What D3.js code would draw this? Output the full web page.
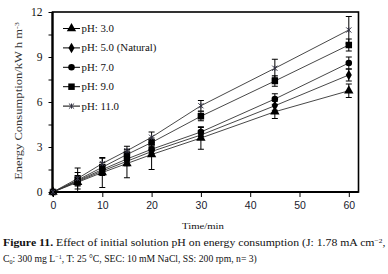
<!DOCTYPE html>
<html><head><meta charset="utf-8">
<script src="https://cdn.jsdelivr.net/npm/d3@7/dist/d3.min.js"></script>
<style>body{margin:0;background:#fff}svg{display:block}</style>
</head><body>
<svg id="c" width="388" height="274"></svg>
<script>
const times = [0, 5, 10, 15, 20, 30, 45, 60];
const seriesNames = ["pH: 3.0", "pH: 5.0 (Natural)", "pH: 7.0", "pH: 9.0", "pH: 11.0"];
const ph3  = [0, 0.65, 1.30, 1.90, 2.50, 3.60, 5.35, 6.75];
const ph5  = [0, 0.70, 1.40, 2.05, 2.70, 3.80, 5.75, 7.80];
const ph7  = [0, 0.75, 1.50, 2.20, 2.85, 4.00, 6.20, 8.60];
const ph9  = [0, 0.80, 1.65, 2.50, 3.30, 5.05, 7.40, 9.80];
const ph11 = [0, 0.90, 1.90, 2.75, 3.65, 5.75, 8.25, 10.80];
const err3  = [0, 0.65, 1.00, 0.95, 1.00, 0.75, 0.45, 0.45];
const err5  = [0, 0.30, 0.30, 0.30, 0.30, 0.30, 0.30, 0.40];
const err7  = [0, 0.30, 0.30, 0.30, 0.30, 0.30, 0.35, 0.40];
const err9  = [0, 0.30, 0.30, 0.30, 0.30, 0.30, 0.35, 0.40];
const err11 = [0, 0.70, 0.35, 0.30, 0.35, 0.35, 0.60, 0.90];
const xTicks = [0, 10, 20, 30, 40, 50, 60];
const yTicks = [0, 3, 6, 9, 12];

const values = [ph3, ph5, ph7, ph9, ph11];
const errs = [err3, err5, err7, err9, err11];
const symbols = [d3.symbolTriangle, d3.symbolDiamond, d3.symbolCircle, d3.symbolSquare, d3.symbolCross];
const SERIF = "Liberation Serif, Times New Roman, serif";

const svg = d3.select("#c");
const L = 52.5, R = 358.5, T = 12, B = 192;
const x = d3.scaleLinear().domain([0, 62]).range([L + 0.5, L + 0.5 + 62 * 4.93]);
const y = d3.scaleLinear().domain([0, 12]).range([B, T]);

// horizontal stretch of a text element to a target width, anchored at (ax, ay)
function stretch(sel, target, ax, ay) {
  const w = sel.node().getComputedTextLength();
  const k = target / w;
  sel.attr("transform", `translate(${ax},${ay}) scale(${k},1) translate(${-ax},${-ay})`);
}

// frame
svg.append("rect").attr("x", L).attr("y", T).attr("width", R - L).attr("height", B - T)
  .attr("fill", "none").attr("stroke", "#000").attr("stroke-width", 1.6);

// axes
const xAxis = d3.axisBottom(x).tickValues(xTicks).tickSize(5).tickFormat(d3.format("d"));
const gx = svg.append("g").attr("transform", `translate(0,${B})`).call(xAxis);
gx.select(".domain").remove();
gx.selectAll("line").attr("stroke", "#000").attr("stroke-width", 1);
gx.selectAll("text").attr("font-family", "Liberation Sans, Arial, sans-serif").attr("font-size", 10.5)
  .attr("fill", "#1a1a2e").attr("dy", "0.85em");

const yAxis = d3.axisLeft(y).tickValues(d3.range(0, 12.01, 1.5)).tickSize(4)
  .tickFormat(d => yTicks.includes(d) ? d3.format("d")(d) : "");
const gy = svg.append("g").attr("transform", `translate(${L},0)`).call(yAxis);
gy.select(".domain").remove();
gy.selectAll("line").attr("stroke", "#000").attr("stroke-width", 1);
gy.selectAll("text").attr("font-family", SERIF).attr("font-size", 11.5).attr("fill", "#111").attr("dx", "-3");

svg.append("line").attr("x1", L).attr("x2", R).attr("y1", B).attr("y2", B).attr("stroke", "#000").attr("stroke-width", 2.2);
svg.append("line").attr("x1", L).attr("x2", L).attr("y1", T).attr("y2", B).attr("stroke", "#000").attr("stroke-width", 2.2);

const line = d3.line().x((d, i) => x(times[i])).y(d => y(d));

values.forEach((vals) => {
  svg.append("path").datum(vals).attr("d", line).attr("fill", "none")
    .attr("stroke", "#333").attr("stroke-width", 0.9);
});
// error bars
values.forEach((vals, s) => {
  const g = svg.append("g").attr("stroke", "#000").attr("stroke-width", 1);
  vals.forEach((v, i) => {
    const e = errs[s][i];
    if (!e) return;
    const cx = x(times[i]);
    g.append("line").attr("x1", cx).attr("x2", cx).attr("y1", y(v - e)).attr("y2", y(v + e));
    [v - e, v + e].forEach(w => g.append("line").attr("x1", cx - 3).attr("x2", cx + 3).attr("y1", y(w)).attr("y2", y(w)));
  });
});
// markers
function marker(g, s, cx, cy) {
  if (s === 4) {
    const r = 2.6;
    g.append("path").attr("d", `M${cx - r},${cy - r}L${cx + r},${cy + r}M${cx - r},${cy + r}L${cx + r},${cy - r}M${cx},${cy - r}L${cx},${cy + r}`)
      .attr("stroke", "#334").attr("stroke-width", 1).attr("fill", "none");
  } else {
    const sizes = [38, 32, 34, 42];
    g.append("path").attr("d", d3.symbol().type(symbols[s]).size(sizes[s])())
      .attr("transform", `translate(${cx},${cy})`).attr("fill", "#000");
  }
}
values.forEach((vals, s) => {
  const g = svg.append("g");
  vals.forEach((v, i) => marker(g, s, x(times[i]), y(v)));
});

// legend
const legTexts = [];
seriesNames.forEach((n, s) => {
  const ly = 28.5 + s * 19.4;
  svg.append("line").attr("x1", 63).attr("x2", 80).attr("y1", ly).attr("y2", ly).attr("stroke", "#000").attr("stroke-width", 1);
  marker(svg, s, 71.5, ly);
  const t = svg.append("text").attr("x", 81.5).attr("y", ly + 3.5).text(n)
    .attr("font-family", SERIF).attr("font-size", 10).attr("fill", "#111");
  legTexts.push(t);
});
const kLeg = 75 / legTexts[1].node().getComputedTextLength();
legTexts.forEach((t, s) => {
  const ly = 28.5 + s * 19.4;
  stretch(t, t.node().getComputedTextLength() * kLeg, 81.5, ly);
});

// axis titles
const yl = svg.append("text").attr("x", 0).attr("y", 0).attr("text-anchor", "middle")
  .attr("font-family", SERIF).attr("font-size", 10).attr("fill", "#333")
  .html('Energy Consumption/kW h m<tspan dy="-3.5" font-size="6.5">-3</tspan>');
const ylw = yl.node().getComputedTextLength();
yl.attr("transform", `translate(22,101) rotate(-90) scale(${158 / ylw},1)`);

const xt = svg.append("text").attr("x", 203).attr("y", 229).attr("text-anchor", "middle")
  .attr("font-family", SERIF).attr("font-size", 8.8).attr("fill", "#111")
  .text("Time/min");
stretch(xt, 42, 203, 229);

// caption
const cap = svg.append("g").attr("font-family", SERIF).attr("font-size", 10.3).attr("fill", "#111");
const t1 = cap.append("text").attr("x", 3).attr("y", 246.5);
t1.append("tspan").attr("font-weight", "bold").text("Figure 11.");
t1.append("tspan").text(" Effect of initial solution pH on energy consumption (J: 1.78 mA cm");
t1.append("tspan").attr("dy", -3.5).attr("font-size", 6.5).text("−2");
t1.append("tspan").attr("dy", 3.5).text(",");
stretch(t1, 383, 3, 246.5);
const t2 = cap.append("text").attr("x", 3).attr("y", 262.5);
t2.append("tspan").text("C");
t2.append("tspan").attr("dy", 2).attr("font-size", 6.5).text("0");
t2.append("tspan").attr("dy", -2).text(": 300 mg L");
t2.append("tspan").attr("dy", -3.5).attr("font-size", 6.5).text("−1");
t2.append("tspan").attr("dy", 3.5).text(", T: 25 °C, SEC: 10 mM NaCl, SS: 200 rpm, n= 3)");
stretch(t2, 254, 3, 262.5);
</script>
</body></html>
